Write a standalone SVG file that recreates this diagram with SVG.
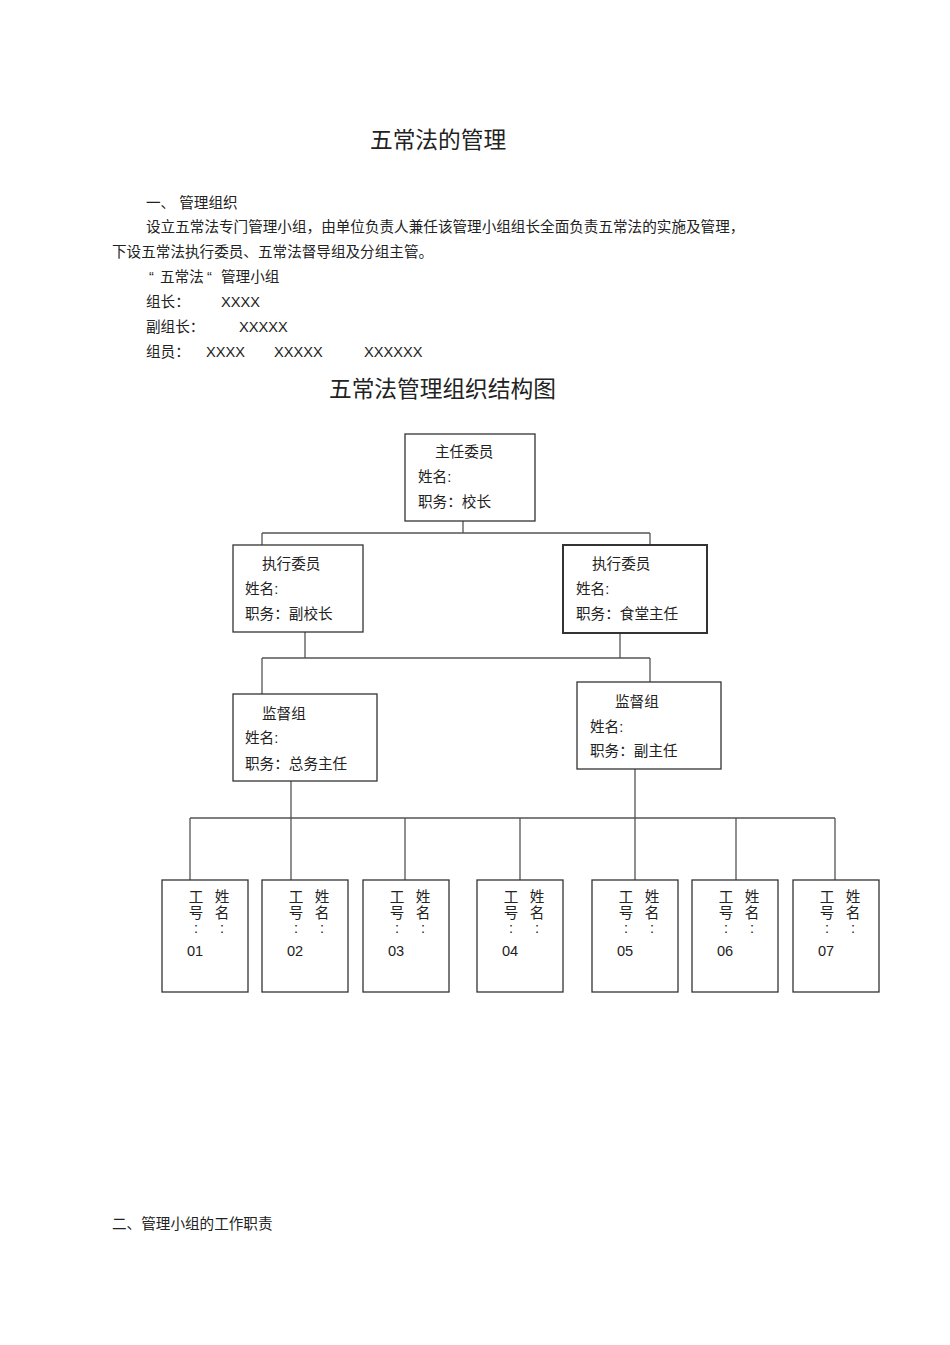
<svg xmlns="http://www.w3.org/2000/svg" width="950" height="1345" viewBox="0 0 950 1345">
<style>
text{font-family:"Liberation Sans","Noto Sans CJK SC",sans-serif;fill:#222;}
.t{font-size:22.7px;}
.b{font-size:14.6px;}
.n{font-size:14.6px;}
.box{fill:#fff;stroke:#333;stroke-width:1.3;}
.c{fill:none;stroke:#555;stroke-width:1.3;}
.v{font-size:14.6px;text-anchor:middle;}
</style>
<rect width="950" height="1345" fill="#fff"/>
<g id="header">
<text class="t" x="370" y="148">五常法的管理</text>
<text class="b" x="146" y="208">一、 管理组织</text>
<text class="b" x="146" y="232">设立五常法专门管理小组，由单位负责人兼任该管理小组组长全面负责五常法的实施及管理，</text>
<text class="b" x="112" y="257">下设五常法执行委员、五常法督导组及分组主管。</text>
<text class="b" y="282"><tspan x="149">“</tspan><tspan x="160">五常法</tspan><tspan x="207">“</tspan><tspan x="221">管理小组</tspan></text>
<text class="b" x="146" y="307">组长：</text><text class="b" x="221" y="307">XXXX</text>
<text class="b" x="146" y="332">副组长：</text><text class="b" x="239" y="332">XXXXX</text>
<text class="b" x="146" y="357">组员：</text><text class="b" x="206" y="357">XXXX</text><text class="b" x="274" y="357">XXXXX</text><text class="b" x="364" y="357">XXXXXX</text>
<text class="t" x="329" y="397">五常法管理组织结构图</text>
<text class="b" x="112" y="1229">二、管理小组的工作职责</text>
</g>
<g id="connectors">
<path class="c" d="M463 521V533M262 533H650M262 533V545M650 533V545"/>
<path class="c" d="M305 632V658M620 633V658M262 658H650M262 658V694M650 658V682"/>
<path class="c" d="M291 781V818M635 769V818M190 818H835M190 818V880M291 818V880M405 818V880M520 818V880M635 818V880M736 818V880M835 818V880"/>
</g>
<g id="director">
<rect class="box" x="405" y="434" width="130" height="87"/>
<text class="b" x="435" y="457">主任委员</text>
<text class="b" x="418" y="482">姓名:</text>
<text class="b" x="418" y="507">职务：校长</text>
</g>
<g id="exec-left">
<rect class="box" x="233" y="545" width="130" height="87"/>
<text class="b" x="262" y="569">执行委员</text>
<text class="b" x="245" y="594">姓名:</text>
<text class="b" x="245" y="619">职务：副校长</text>
</g>
<g id="exec-right">
<rect class="box" x="563" y="545" width="144" height="88" style="stroke-width:2"/>
<text class="b" x="592" y="569">执行委员</text>
<text class="b" x="576" y="594">姓名:</text>
<text class="b" x="576" y="619">职务：食堂主任</text>
</g>
<g id="sup-left">
<rect class="box" x="233" y="694" width="144" height="87"/>
<text class="b" x="262" y="719">监督组</text>
<text class="b" x="245" y="743">姓名:</text>
<text class="b" x="245" y="769">职务：总务主任</text>
</g>
<g id="sup-right">
<rect class="box" x="577" y="682" width="144" height="87"/>
<text class="b" x="615" y="707">监督组</text>
<text class="b" x="590" y="732">姓名:</text>
<text class="b" x="590" y="756">职务：副主任</text>
</g>
<g id="w01" transform="translate(162,880)">
<rect class="box" x="0" y="0" width="86" height="112"/>
<text class="v" x="34" y="22">工</text><text class="v" x="34" y="38">号</text><text class="v" x="34" y="53">:</text>
<text class="v" x="60" y="22">姓</text><text class="v" x="60" y="38">名</text><text class="v" x="60" y="53">:</text>
<text class="n" x="25" y="76">01</text>
</g>
<g id="w02" transform="translate(262,880)">
<rect class="box" x="0" y="0" width="86" height="112"/>
<text class="v" x="34" y="22">工</text><text class="v" x="34" y="38">号</text><text class="v" x="34" y="53">:</text>
<text class="v" x="60" y="22">姓</text><text class="v" x="60" y="38">名</text><text class="v" x="60" y="53">:</text>
<text class="n" x="25" y="76">02</text>
</g>
<g id="w03" transform="translate(363,880)">
<rect class="box" x="0" y="0" width="86" height="112"/>
<text class="v" x="34" y="22">工</text><text class="v" x="34" y="38">号</text><text class="v" x="34" y="53">:</text>
<text class="v" x="60" y="22">姓</text><text class="v" x="60" y="38">名</text><text class="v" x="60" y="53">:</text>
<text class="n" x="25" y="76">03</text>
</g>
<g id="w04" transform="translate(477,880)">
<rect class="box" x="0" y="0" width="86" height="112"/>
<text class="v" x="34" y="22">工</text><text class="v" x="34" y="38">号</text><text class="v" x="34" y="53">:</text>
<text class="v" x="60" y="22">姓</text><text class="v" x="60" y="38">名</text><text class="v" x="60" y="53">:</text>
<text class="n" x="25" y="76">04</text>
</g>
<g id="w05" transform="translate(592,880)">
<rect class="box" x="0" y="0" width="86" height="112"/>
<text class="v" x="34" y="22">工</text><text class="v" x="34" y="38">号</text><text class="v" x="34" y="53">:</text>
<text class="v" x="60" y="22">姓</text><text class="v" x="60" y="38">名</text><text class="v" x="60" y="53">:</text>
<text class="n" x="25" y="76">05</text>
</g>
<g id="w06" transform="translate(692,880)">
<rect class="box" x="0" y="0" width="86" height="112"/>
<text class="v" x="34" y="22">工</text><text class="v" x="34" y="38">号</text><text class="v" x="34" y="53">:</text>
<text class="v" x="60" y="22">姓</text><text class="v" x="60" y="38">名</text><text class="v" x="60" y="53">:</text>
<text class="n" x="25" y="76">06</text>
</g>
<g id="w07" transform="translate(793,880)">
<rect class="box" x="0" y="0" width="86" height="112"/>
<text class="v" x="34" y="22">工</text><text class="v" x="34" y="38">号</text><text class="v" x="34" y="53">:</text>
<text class="v" x="60" y="22">姓</text><text class="v" x="60" y="38">名</text><text class="v" x="60" y="53">:</text>
<text class="n" x="25" y="76">07</text>
</g>
</svg>
